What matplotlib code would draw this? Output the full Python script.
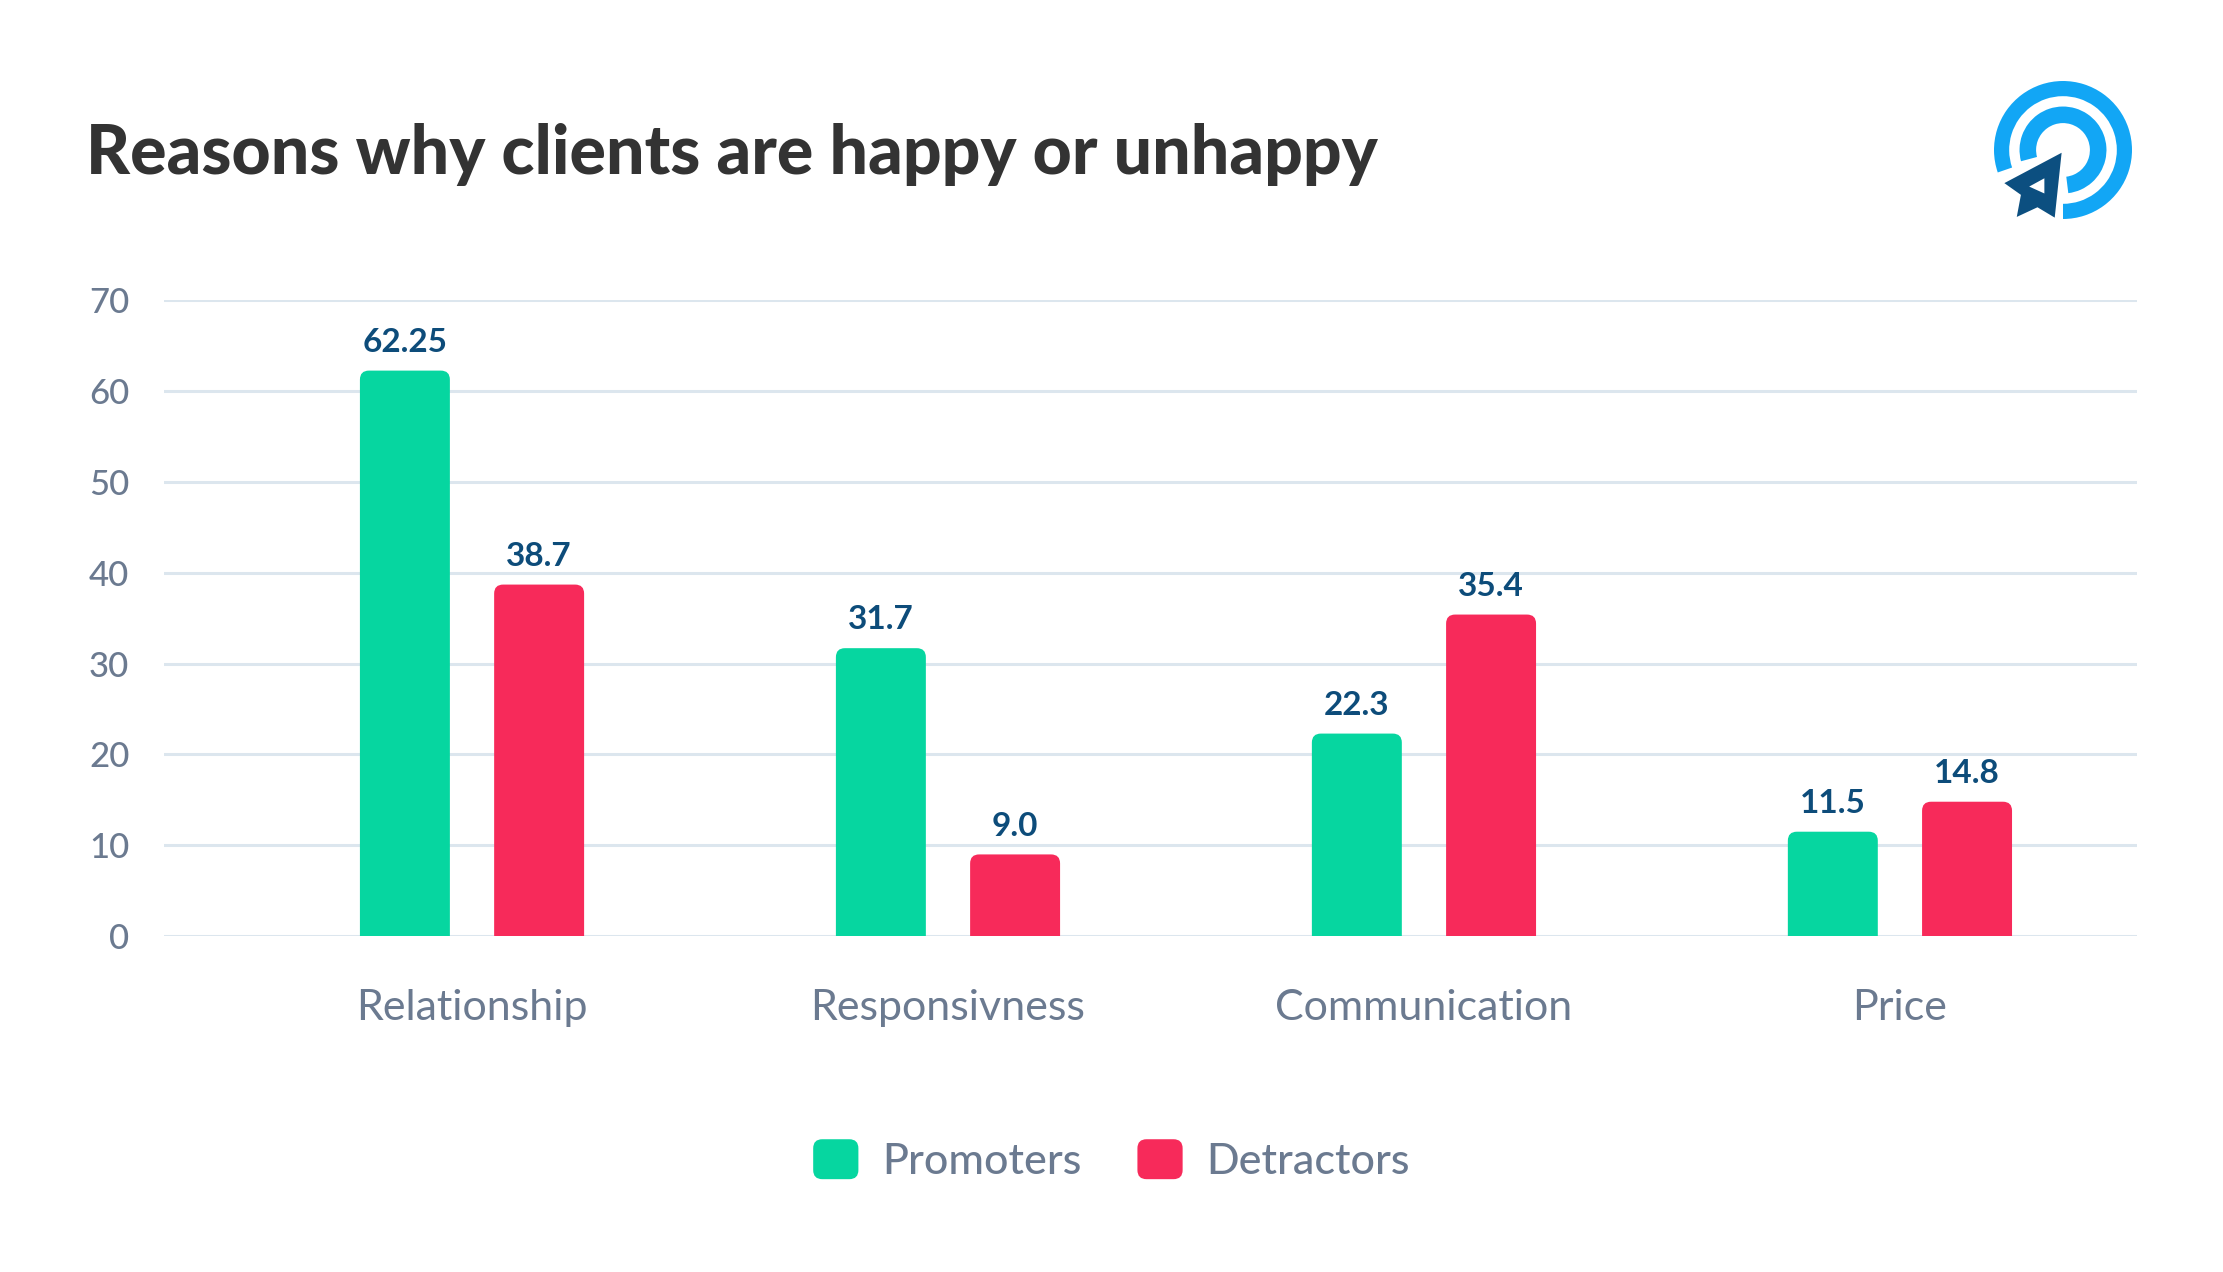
import matplotlib
matplotlib.use("Agg")
import matplotlib.pyplot as plt
from matplotlib.patches import FancyBboxPatch, Wedge, Polygon
from matplotlib.legend_handler import HandlerPatch
import numpy as np

# data
categories = ["Relationship", "Responsivness", "Communication", "Price"]
series_names = ["Promoters", "Detractors"]
promoters = [62.25, 31.7, 22.3, 11.5]
detractors = [38.7, 9.0, 35.4, 14.8]
yticks = [0, 10, 20, 30, 40, 50, 60, 70]

GREEN = "#06d6a0"
RED = "#f72a5a"
LABEL_BLUE = "#0d4c7a"
GREY = "#6b7a90"
GRID = "#dce6ee"

plt.rcParams['font.family'] = ['Lato', 'DejaVu Sans']

fig = plt.figure(figsize=(22.23, 12.72), dpi=100)
ax = fig.add_axes([0.0738, 0.264, 0.9613 - 0.0738, 0.50])

x = np.arange(len(categories))
width = 0.189
offset = 0.141

bars_p = ax.bar(x - offset, promoters, width, color=GREEN, label=series_names[0], zorder=3)
bars_d = ax.bar(x + offset, detractors, width, color=RED, label=series_names[1], zorder=3)

ax.set_xlim(-0.647, 3.498)
ax.set_ylim(0, 70)

# swap the plain rectangles for bars with rounded top corners
fig.canvas.draw()
bbox = ax.get_window_extent()
x0, x1 = ax.get_xlim()
y0, y1 = ax.get_ylim()
px_x = (x1 - x0) / bbox.width
px_y = (y1 - y0) / bbox.height
aspect = px_y / px_x
rad = 9 * px_x
for bar in list(bars_p) + list(bars_d):
    bx, by = bar.get_x(), bar.get_y()
    bw, bh = bar.get_width(), bar.get_height()
    p = FancyBboxPatch((bx, by - rad * aspect * 2), bw, bh + rad * aspect * 2,
                       boxstyle=f"round,pad=0,rounding_size={rad}",
                       mutation_aspect=aspect, fc=bar.get_facecolor(),
                       ec="none", zorder=3)
    ax.add_patch(p)
    bar.set_visible(False)

# value labels
for bars, vals in [(bars_p, promoters), (bars_d, detractors)]:
    for bar, v in zip(bars, vals):
        txt = f"{v:.2f}" if round(v * 10) != v * 10 else f"{v:.1f}"
        ax.annotate(txt, (bar.get_x() + bar.get_width() / 2, bar.get_height()),
                    xytext=(0, 10), textcoords="offset points",
                    ha="center", va="bottom", fontsize=24, fontweight="bold",
                    color=LABEL_BLUE)

ax.set_yticks(yticks)
ax.set_xticks(x)
ax.set_xticklabels(categories)
ax.tick_params(axis="y", length=0, pad=25, labelsize=25, labelcolor=GREY)
ax.tick_params(axis="x", length=0, pad=38, labelsize=31, labelcolor=GREY)
for lab in ax.get_yticklabels():
    lab.set_fontweight("medium")
ax.grid(axis="y", color=GRID, linewidth=2.2, zorder=0)
ax.set_axisbelow(True)
for s in ax.spines.values():
    s.set_visible(False)

# title
fig.text(86 / 2223, 1 - 174 / 1272, "Reasons why clients are happy or unhappy",
         fontsize=49, fontweight="black", color="#333333", ha="left", va="baseline")


# legend with rounded squares
class RoundHandler(HandlerPatch):
    def create_artists(self, legend, orig_handle, xdescent, ydescent, width, height, fontsize, trans):
        p = FancyBboxPatch((-xdescent, -ydescent), width, height,
                           boxstyle=f"round,pad=0,rounding_size={width * 0.2}",
                           fc=orig_handle.get_facecolor(), ec="none", transform=trans)
        return [p]


h1 = bars_p.patches[0]
h2 = bars_d.patches[0]
leg = fig.legend(handles=[h1, h2], labels=series_names, loc="center",
                 bbox_to_anchor=(0.5, 0.088), ncol=2, frameon=False, fontsize=31,
                 handlelength=1.05, handleheight=1.05, handletextpad=0.55,
                 columnspacing=1.3,
                 handler_map={type(h1): RoundHandler()})
for t in leg.get_texts():
    t.set_color(GREY)
    t.set_fontweight("medium")
for h in leg.legend_handles:
    h.set_visible(True)

# logo
lax = fig.add_axes([(2063 - 75) / 2223, (1272 - 150 - 75) / 1272, 150 / 2223, 150 / 1272])
lax.set_xlim(-1.087, 1.087)
lax.set_ylim(-1.087, 1.087)
lax.set_aspect("equal")
lax.axis("off")
LOGO_LIGHT = "#12a6f5"
LOGO_DARK = "#0c4f80"
lax.add_patch(Wedge((0, 0), 1.0, -90, 199, width=0.22, fc=LOGO_LIGHT, ec="none"))
lax.add_patch(Wedge((0, 0), 0.63, -83, 195, width=0.24, fc=LOGO_LIGHT, ec="none"))
arrow = [(-0.02, -0.04), (-0.85, -0.48), (-0.61, -0.65), (-0.67, -0.97),
         (-0.37, -0.83), (-0.12, -0.98)]
lax.add_patch(Polygon(arrow, closed=True, fc=LOGO_DARK, ec="white", lw=6, joinstyle="miter", zorder=3))
lax.add_patch(Polygon(arrow, closed=True, fc=LOGO_DARK, ec="none", zorder=4))
hole = [(-0.49, -0.53), (-0.27, -0.41), (-0.27, -0.63)]
lax.add_patch(Polygon(hole, closed=True, fc="white", ec="none", zorder=5))

fig.savefig("out.png", dpi=100, facecolor="white")
